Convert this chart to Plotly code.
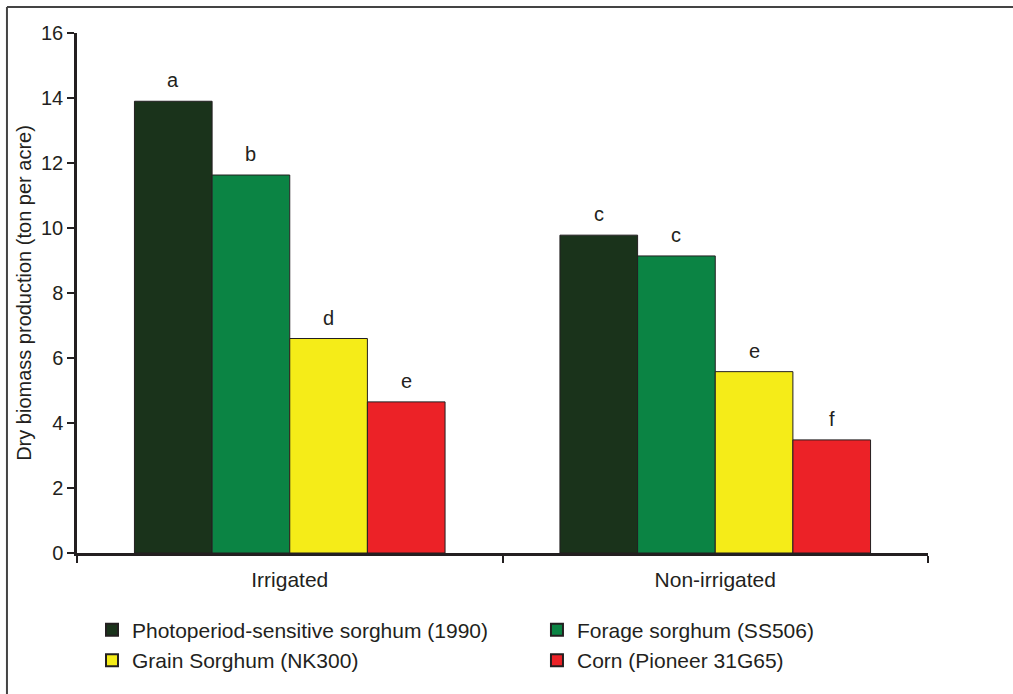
import plotly.graph_objects as go

categories = ["Irrigated", "Non-irrigated"]
series_names = [
    "Photoperiod-sensitive sorghum (1990)",
    "Forage sorghum (SS506)",
    "Grain Sorghum (NK300)",
    "Corn (Pioneer 31G65)",
]
values = [
    [13.9, 9.78],
    [11.63, 9.14],
    [6.6, 5.58],
    [4.65, 3.48],
]
letters = [
    ["a", "c"],
    ["b", "c"],
    ["d", "e"],
    ["e", "f"],
]
colors = ["#1a331b", "#0b8444", "#f5ec18", "#ec2227"]
legend_of = ["legend", "legend2", "legend", "legend2"]

FONT = "Liberation Sans, Arial, sans-serif"
bargap = 0.27
n = len(series_names)
bw = (1 - bargap) / n

fig = go.Figure()
for i, name in enumerate(series_names):
    fig.add_trace(go.Bar(
        x=categories, y=values[i], name=name, legend=legend_of[i],
        marker=dict(color=colors[i], line=dict(color="#231f20", width=1)),
    ))

annotations = []
for i in range(n):
    off = -(1 - bargap) / 2 + (i + 0.5) * bw
    for j, cat in enumerate(categories):
        annotations.append(dict(
            x=j + off, y=values[i][j], xref="x", yref="y",
            text=letters[i][j], showarrow=False, yanchor="bottom", yshift=8,
            font=dict(size=20, color="#231f20", family=FONT),
        ))

legend_style = dict(
    orientation="v", yanchor="top", xanchor="left",
    font=dict(size=21, family=FONT, color="#231f20"),
    traceorder="normal", itemsizing="constant", bgcolor="rgba(0,0,0,0)",
)

fig.update_layout(
    width=1013, height=694,
    margin=dict(l=77, r=85, t=33, b=141, autoexpand=False),
    paper_bgcolor="white", plot_bgcolor="white",
    barmode="group", bargap=bargap, bargroupgap=0,
    font=dict(family=FONT, size=20, color="#231f20"),
    annotations=annotations,
    showlegend=True,
    legend=dict(x=0.0176, y=-0.109, **legend_style),
    legend2=dict(x=0.5405, y=-0.109, **legend_style),
    shapes=[
        dict(type="line", xref="paper", yref="paper", x0=-0.0823, x1=1.2, y0=1.05, y1=1.05,
             line=dict(color="#444444", width=2)),
        dict(type="line", xref="paper", yref="paper", x0=-0.0823, x1=-0.0823, y0=1.05, y1=-0.3,
             line=dict(color="#444444", width=2)),
    ],
)
fig.update_xaxes(
    showline=True, linecolor="#231f20", linewidth=2.5,
    ticks="outside", tickson="boundaries", ticklen=7, tickwidth=2, tickcolor="#231f20",
    showgrid=False, tickfont=dict(size=21), ticklabelstandoff=6,
)
fig.update_yaxes(
    range=[0, 16], dtick=2, showline=True, linecolor="#231f20", linewidth=2.5,
    ticks="outside", ticklen=7, tickwidth=2, tickcolor="#231f20",
    showgrid=False, zeroline=False, tickfont=dict(size=20),
    title=dict(text="Dry biomass production (ton per acre)", font=dict(size=20), standoff=5),
)
fig.write_html("out.html", post_script="document.body.style.margin='0';",
               config={"displayModeBar": False})
